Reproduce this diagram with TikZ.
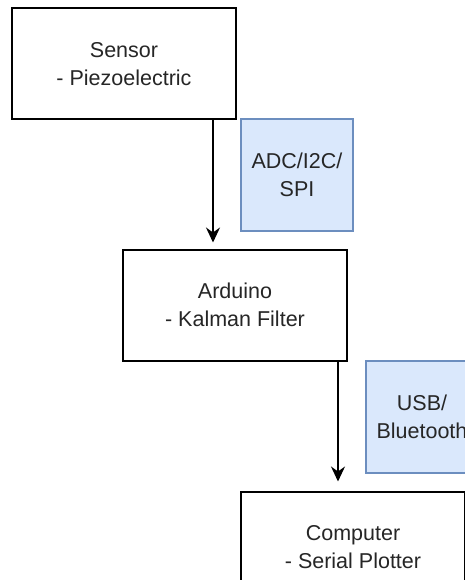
\documentclass[tikz,border=0pt]{standalone}
\usepackage{fontspec}
\setmainfont{Liberation Sans}
\usetikzlibrary{positioning, arrows.meta}

\definecolor{boxblue}{HTML}{DAE8FC}
\definecolor{lineblue}{HTML}{6C8EBF}

\tikzset{
    block/.style={draw=black, line width=2pt, minimum width=224pt, minimum height=111pt,
        align=center, inner sep=0pt, text=black!85, font=\fontsize{21.5}{28}\selectfont},
    link/.style={draw=lineblue, fill=boxblue, line width=1.5pt, minimum width=112pt,
        minimum height=112pt, align=center, inner sep=0pt, text=black!85,
        font=\fontsize{21.5}{28}\selectfont},
    arr/.style={-{Stealth[length=15pt, width=14pt, inset=5pt]}, line width=1.5pt}
}

\begin{document}
\begin{tikzpicture}[x=1pt, y=-1pt]
                \clip (0,0) rectangle (465,580);
                \fill[white] (0,0) rectangle (465,580);

                %Nodes
                \node[block] at (124,64) (S) {Sensor\\- Piezoelectric};
                \node[link] at (297,175) (adc) {ADC/I2C/\\SPI};
                \node[block] at (235,305) (A) {Arduino\\- Kalman Filter};
                \node[link] at (422,417) (usb) {USB/\\Bluetooth};
                \node[block] at (353,547) (C) {Computer\\- Serial Plotter};

                %Lines
                \draw[arr, shorten >=6pt] ([xshift=89pt]S.south) -- ([xshift=-22pt]A.north);
                \draw[arr, shorten >=9pt] ([xshift=103pt]A.south) -- ([xshift=-15pt]C.north);
            \end{tikzpicture}
\end{document}
